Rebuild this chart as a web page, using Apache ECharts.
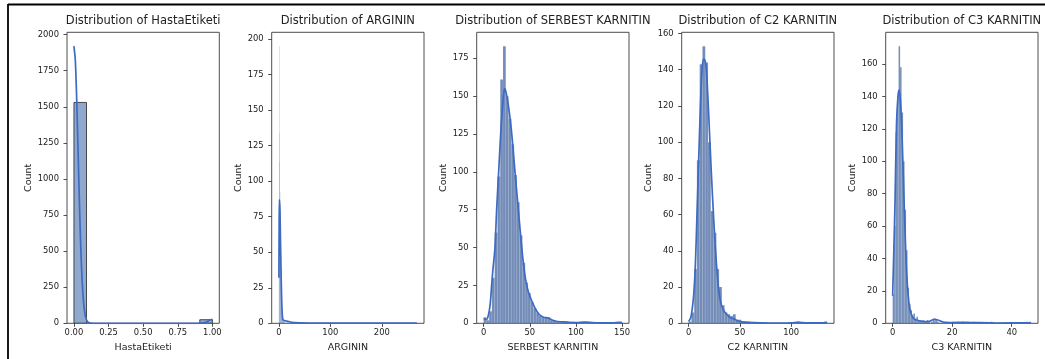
<!DOCTYPE html>
<html><head><meta charset="utf-8">
<script src="https://cdn.jsdelivr.net/npm/echarts@6/dist/echarts.min.js"></script>
<style>html,body{margin:0;padding:0;background:#fff;}#c{width:1045px;height:359px;}</style>
</head><body><div id="c"></div>
<script>
// ---------- DATA ----------
const titles = ['Distribution of HastaEtiketi', 'Distribution of ARGININ', 'Distribution of SERBEST KARNITIN', 'Distribution of C2 KARNITIN', 'Distribution of C3 KARNITIN'];
const xNames = ['HastaEtiketi', 'ARGININ', 'SERBEST KARNITIN', 'C2 KARNITIN', 'C3 KARNITIN'];
const yName = 'Count';

// x tick labels
const hastaXTicks = [0, 0.25, 0.5, 0.75, 1.0];
const argininXTicks = [0, 100, 200];
const serbestXTicks = [0, 50, 100, 150];
const c2XTicks = [0, 50, 100];
const c3XTicks = [0, 20, 40];
// y tick labels
const hastaYTicks = [0, 250, 500, 750, 1000, 1250, 1500, 1750, 2000];
const argininYTicks = [0, 25, 50, 75, 100, 125, 150, 175, 200];
const serbestYTicks = [0, 25, 50, 75, 100, 125, 150, 175];
const c2YTicks = [0, 20, 40, 60, 80, 100, 120, 140, 160];
const c3YTicks = [0, 20, 40, 60, 80, 100, 120, 140, 160];

// histogram bins (first bin start, bin width, counts)
const hastaBinStart = 0, hastaBinWidth = 1 / 11;
const hastaCounts = [1530, 0, 0, 0, 0, 0, 0, 0, 0, 0, 25];

const argininBinStart = 0, argininBinWidth = 0.5;
const argininCounts = [35, 195, 134, 114, 92, 80, 66, 52, 40, 30, 22, 15, 10, 7, 5, 4, 3, 3, 2, 2, 2, 1, 1, 1];
const argininOutlierStarts = [14, 17, 22, 30, 45, 268];
const argininOutlierCounts = [1, 1, 1, 1, 1, 1];

const serbestBinStart = 0, serbestBinWidth = 3;
const serbestCounts = [4, 2, 8, 30, 60, 97, 161, 183, 150, 135, 118, 98, 80, 58, 40, 27, 20, 14, 10, 7, 5, 4, 4, 4, 2, 2, 1, 1, 1, 1, 1, 0, 1, 0, 0, 1, 1, 1, 0, 0, 0, 0, 0, 0, 0, 0, 0, 0, 0, 1];

const c2BinStart = 0, c2BinWidth = 2.7;
const c2Counts = [1, 6, 30, 90, 143, 153, 144, 100, 62, 50, 30, 20, 10, 6, 5, 4, 5, 2, 2, 1, 1, 1, 0, 0, 0, 0, 0, 0, 0, 0, 0, 0, 0, 0, 0, 0, 0, 0, 0, 1, 0, 0, 0, 0, 0, 0, 0, 0, 0, 1];

const c3BinStart = 0, c3BinWidth = 0.5;
const c3Counts = [18, 60, 118, 140, 171, 158, 130, 100, 70, 45, 22, 12, 8, 5, 6, 3, 4, 2, 2, 1, 2, 1, 1, 2, 1, 0, 1, 2, 3, 2, 1, 0, 0, 0, 1, 0, 0, 0, 0, 0, 1, 0, 0, 0, 0, 0, 0, 1, 0, 0, 1, 0, 0, 0, 1, 0, 0, 0, 0, 0, 0, 0, 0, 0, 0, 0, 1, 0, 0, 0, 0, 0, 0, 0, 0, 0, 0, 0, 0, 0, 0, 0, 0, 0, 0, 0, 0, 0, 0, 0, 1, 0, 1];

// KDE curves
const hastaKdeX = [0, 0.01, 0.02, 0.03, 0.04, 0.05, 0.06, 0.07, 0.08, 0.09, 0.10, 0.12, 0.15, 0.3, 0.5, 0.7, 0.88, 0.91, 0.94, 0.96, 0.98, 1.0];
const hastaKdeY = [1920, 1822, 1553, 1189, 825, 509, 283, 142, 64, 26, 9, 1, 0, 0, 0, 0, 0, 0.3, 3.8, 10.5, 22.5, 28];

const argininKdeX = [0, 0.5, 1, 2, 3, 4, 5, 6, 7, 8, 10, 15, 20, 25, 40, 80, 150, 268];
const argininKdeY = [32, 70, 87, 80, 60, 40, 22, 10, 4, 2.5, 2, 1.5, 1.2, 0.6, 0.3, 0.1, 0.1, 0.1];

const serbestKdeX = [0, 3, 5, 7, 8.7, 10, 12.3, 14.1, 16.3, 18.5, 21.4, 22.8, 24.5, 27, 30, 34, 37.6, 41.3, 44, 46.7, 50, 55.7, 60, 65, 70, 75, 80, 90, 100, 110, 115, 125, 140, 147, 150];
const serbestKdeY = [3, 2.5, 5, 12, 25, 35, 50, 75, 100, 125, 150, 155, 152, 143, 128, 100, 75, 50, 35, 25, 18, 10, 6, 4, 3.5, 2, 1.2, 0.8, 0.5, 0.8, 0.6, 0.3, 0.3, 0.6, 0.3];

const c2KdeX = [0, 2, 3.3, 5, 6.5, 8.2, 9.8, 11.4, 13.1, 14.6, 16, 17.3, 18.5, 19.6, 21.9, 24.5, 27.1, 29.4, 31.5, 34.3, 37, 40.8, 44, 47.3, 52, 57, 70, 90, 100, 107, 115, 128, 135];
const c2KdeY = [1, 3, 7, 16, 31, 61, 90, 118, 140, 146, 145, 140, 128, 115, 86, 57, 33, 18, 11, 7, 5, 3, 2.5, 1.5, 0.8, 0.5, 0.2, 0.1, 0.2, 0.5, 0.2, 0.2, 0.4];

const c3KdeX = [0, 0.4, 0.8, 1.3, 1.8, 2.2, 2.7, 3.2, 3.9, 4.7, 5.5, 6.2, 7, 8, 10, 12, 14, 15, 17, 20, 24, 28, 35, 45, 46.5];
const c3KdeY = [17, 45, 75, 123, 140, 144, 135, 113, 72, 31, 12, 6, 3, 2, 1.2, 1, 2.5, 2.2, 0.8, 0.5, 0.6, 0.4, 0.2, 0.3, 0.3];

// ---------- BUILD ----------
function binsFrom(start, width, counts) {
  const out = [];
  counts.forEach((c, i) => { if (c > 0) out.push([start + i * width, c]); });
  return out;
}
function zip(xs, ys) { return xs.map((x, i) => [x, ys[i]]); }

const argininBins = binsFrom(argininBinStart, argininBinWidth, argininCounts)
  .concat(argininOutlierStarts.map((s, i) => [s, argininOutlierCounts[i]]));

const NARROW_FILL = 'rgba(70,104,160,0.76)';
const NARROW_STROKE = 'rgba(210,220,235,0.55)';
const panels = [
  { bins: binsFrom(hastaBinStart, hastaBinWidth, hastaCounts), bw: hastaBinWidth, kde: zip(hastaKdeX, hastaKdeY), xt: hastaXTicks, yt: hastaYTicks, xfmt: v => v.toFixed(2), xmin: -0.05, xmax: 1.05, ymax: 2016, left: 67, nameGapY: 27, fill: 'rgba(76,114,176,0.62)', stroke: 'rgba(30,30,30,0.85)', lw: 0.9 },
  { bins: argininBins, bw: argininBinWidth, kde: zip(argininKdeX, argininKdeY), xt: argininXTicks, yt: argininYTicks, xfmt: v => String(v), xmin: -14, xmax: 282, ymax: 204.75, left: 271.7, nameGapY: 22, fill: 'rgba(76,114,176,0.7)', stroke: 'rgba(255,255,255,0.3)', lw: 0.1 },
  { bins: binsFrom(serbestBinStart, serbestBinWidth, serbestCounts), bw: serbestBinWidth, kde: zip(serbestKdeX, serbestKdeY), xt: serbestXTicks, yt: serbestYTicks, xfmt: v => String(v), xmin: -7.5, xmax: 157.5, ymax: 192.15, left: 476.7, nameGapY: 22, fill: NARROW_FILL, stroke: NARROW_STROKE, lw: 0.3 },
  { bins: binsFrom(c2BinStart, c2BinWidth, c2Counts), bw: c2BinWidth, kde: zip(c2KdeX, c2KdeY), xt: c2XTicks, yt: c2YTicks, xfmt: v => String(v), xmin: -6.75, xmax: 141.75, ymax: 160.65, left: 681.7, nameGapY: 22, fill: NARROW_FILL, stroke: NARROW_STROKE, lw: 0.3 },
  { bins: binsFrom(c3BinStart, c3BinWidth, c3Counts), bw: c3BinWidth, kde: zip(c3KdeX, c3KdeY), xt: c3XTicks, yt: c3YTicks, xfmt: v => String(v), xmin: -2.33, xmax: 48.83, ymax: 179.55, left: 885.7, nameGapY: 21, fill: NARROW_FILL, stroke: NARROW_STROKE, lw: 0.2 }
];

const FONT = 'DejaVu Sans';
const TXT = '#222';
const W = 152.3, TOP = 32.3, H = 291;
const LINE = '#3d6ac2';

const option = {
  animation: false,
  backgroundColor: '#fff',
  title: panels.map((p, i) => ({
    text: titles[i], left: p.left + W / 2, top: 15, textAlign: 'center', padding: 0,
    textStyle: { fontFamily: FONT, fontSize: 11.5, fontWeight: 'normal', color: TXT }
  })),
  grid: panels.map(p => ({ left: p.left, top: TOP, width: W, height: H, show: true, borderColor: '#3a3a3a', borderWidth: 0.9, backgroundColor: 'transparent', containLabel: false })),
  xAxis: panels.map((p, i) => ({
    gridIndex: i, type: 'value', min: p.xmin, max: p.xmax,
    axisLine: { show: false, onZero: false }, splitLine: { show: false },
    axisTick: { show: true, customValues: p.xt, length: 3.5, lineStyle: { color: '#3a3a3a', width: 0.9 } },
    axisLabel: { customValues: p.xt, formatter: p.xfmt, fontFamily: FONT, fontSize: 8.4, color: TXT, margin: 6 },
    name: xNames[i], nameLocation: 'middle', nameGap: 19,
    nameTextStyle: { fontFamily: FONT, fontSize: 9.5, color: TXT }
  })),
  yAxis: panels.map((p, i) => ({
    gridIndex: i, type: 'value', min: 0, max: p.ymax,
    axisLine: { show: false, onZero: false }, splitLine: { show: false },
    axisTick: { show: true, customValues: p.yt, length: 3.5, lineStyle: { color: '#3a3a3a', width: 0.9 } },
    axisLabel: { customValues: p.yt, formatter: v => String(v), fontFamily: FONT, fontSize: 8.4, color: TXT, margin: 8 },
    name: yName, nameLocation: 'middle', nameGap: p.nameGapY, nameRotate: 90,
    nameTextStyle: { fontFamily: FONT, fontSize: 9.5, color: TXT }
  })),
  series: [],
  graphic: [
    { type: 'line', shape: { x1: 8, y1: 4.5, x2: 1045, y2: 4.5 }, style: { stroke: '#000', lineWidth: 1.8 } },
    { type: 'line', shape: { x1: 8, y1: 4, x2: 8, y2: 359 }, style: { stroke: '#000', lineWidth: 1.8 } }
  ]
};

panels.forEach((p, i) => {
  option.series.push({
    type: 'custom', xAxisIndex: i, yAxisIndex: i, clip: true,
    data: p.bins, encode: { x: 0, y: 1 },
    renderItem: (params, api) => {
      const x0 = api.value(0), c = api.value(1);
      const a = api.coord([x0, 0]);
      const b = api.coord([x0 + p.bw, c]);
      return { type: 'rect', shape: { x: a[0], y: b[1], width: b[0] - a[0], height: a[1] - b[1] },
        style: { fill: p.fill, stroke: p.stroke, lineWidth: p.lw } };
    }
  });
  option.series.push({
    type: 'line', xAxisIndex: i, yAxisIndex: i, data: p.kde, showSymbol: false, smooth: 0.3,
    lineStyle: { color: LINE, width: 1.7 }, z: 5
  });
});

const chart = echarts.init(document.getElementById('c'), null, { renderer: 'canvas' });
chart.setOption(option);
</script>
</body></html>
